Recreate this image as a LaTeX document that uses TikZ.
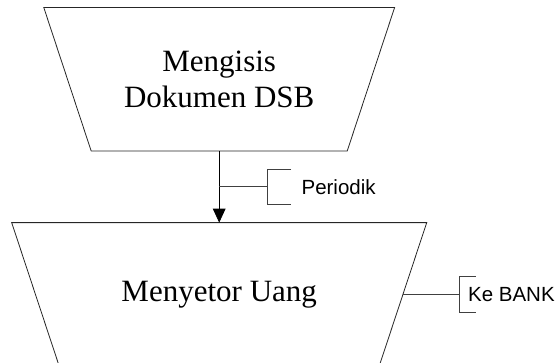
\documentclass[tikz,border=0pt]{standalone}
\usepackage{fontspec}
\setmainfont{Liberation Serif}
\newfontfamily\labelfont{Liberation Sans}
\usetikzlibrary{arrows.meta,calc}
\begin{document}
\begin{tikzpicture}[x=1pt,y=1pt,
  proc/.style={align=center, inner sep=0pt, font=\fontsize{31}{36}\selectfont},
  manual/.style={draw=black!85, line width=0.8pt},
  note/.style={anchor=west, inner sep=0pt, font=\labelfont\fontsize{20.5}{24}\selectfont},
  bracket/.style={draw=black!75, line width=0.8pt}]
  \useasboundingbox (0,0) rectangle (555,362);
  % proses manual atas
  \node[proc] (isi) at (219.2,282.7) {Mengisis\\Dokumen DSB};
  \draw[manual] ($(isi)+(-175.4,71.75)$) -- ($(isi)+(175.4,71.75)$)
    -- ($(isi)+(128,-71.75)$) -- ($(isi)+(-128,-71.75)$) -- cycle;
  \coordinate (isi-b) at ($(isi)+(0,-71.75)$);
  % proses manual bawah
  \node[proc] (setor) at (219.2,67.6) {Menyetor Uang};
  \draw[manual] ($(setor)+(-207.5,71.75)$) -- ($(setor)+(207.5,71.75)$)
    -- ($(setor)+(160,-71.75)$) -- ($(setor)+(-160,-71.75)$) -- cycle;
  \coordinate (setor-t) at ($(setor)+(0,71.75)$);
  \coordinate (setor-r) at ($(setor)+(183.75,0)$);
  \draw[-{Triangle[width=12.7pt,length=14pt]}, line width=0.8pt] (isi-b) -- (setor-t);
  % keterangan periodik
  \coordinate (cab1) at ($(isi-b)+(0,-35.7)$);
  \coordinate (kurung1) at ($(cab1)+(47.7,0)$);
  \draw[bracket] (cab1) -- (kurung1);
  \draw[bracket] ($(kurung1)+(24.3,17.8)$) -- ($(kurung1)+(0,17.8)$)
    -- ($(kurung1)+(0,-17.8)$) -- ($(kurung1)+(24.3,-17.8)$);
  \node[note] (periodik) at ($(kurung1)+(34.5,0)$) {Periodik};
  % keterangan bank
  \coordinate (kurung2) at ($(setor-r)+(56,0)$);
  \draw[bracket] (setor-r) -- (kurung2);
  \draw[bracket] ($(kurung2)+(16.7,17.8)$) -- ($(kurung2)+(0,17.8)$)
    -- ($(kurung2)+(0,-17.8)$) -- ($(kurung2)+(16.7,-17.8)$);
  \node[note] (bank) at ($(kurung2)+(9,0)$) {Ke BANK};
\end{tikzpicture}
\end{document}
